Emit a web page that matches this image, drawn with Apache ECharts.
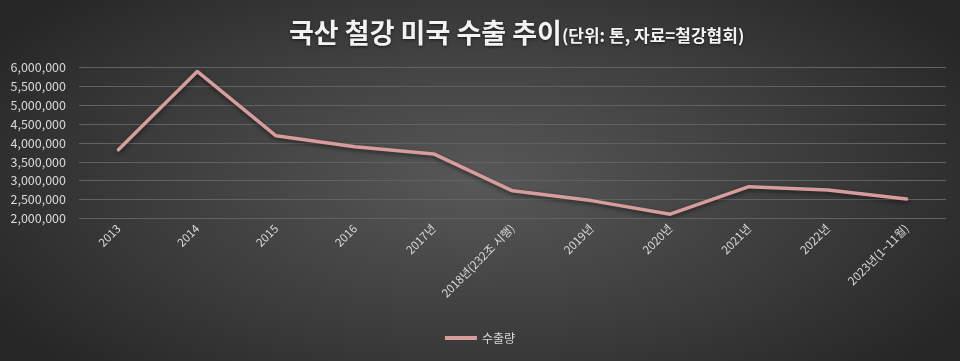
<!DOCTYPE html>
<html><head><meta charset="utf-8">
<script src="https://cdn.jsdelivr.net/npm/echarts@6/dist/echarts.min.js"></script>
<style>
html,body{margin:0;padding:0;}
#c{width:960px;height:361px;background:radial-gradient(ellipse 60% 75% at 50% 50%, #585858 0%, #3b3b3b 60%, #262626 100%);}
</style></head>
<body><div id="c"></div>
<script>
const categories = ['2013','2014','2015','2016','2017년','2018년(232조 시행)','2019년','2020년','2021년','2022년','2023년(1~11월)'];
const exportVolume = [3820000, 5900000, 4190000, 3900000, 3710000, 2730000, 2470000, 2110000, 2840000, 2750000, 2510000];
const seriesName = '수출량';
const titleMain = '국산 철강 미국 수출 추이';
const titleSub = '(단위: 톤, 자료=철강협회)';

const chart = echarts.init(document.getElementById('c'), null, {renderer:'canvas'});
const font = '"Noto Sans CJK KR", "Noto Sans", sans-serif';
chart.setOption({
  backgroundColor: 'transparent',
  textStyle: {fontFamily: font},
  title: {
    text: '{a|' + titleMain + '}{b|' + titleSub + '}',
    left: 284, top: 14,
    textStyle: {
      rich: {
        a: {fontSize: 27, fontWeight: 'bold', color: '#f2f2f2', fontFamily: font, textShadowColor: 'rgba(0,0,0,0.6)', textShadowBlur: 3, textShadowOffsetY: 1},
        b: {fontSize: 17, fontWeight: 'bold', color: '#f2f2f2', fontFamily: font, padding: [6,0,0,0], textShadowColor: 'rgba(0,0,0,0.6)', textShadowBlur: 3, textShadowOffsetY: 1}
      }
    }
  },
  legend: {
    bottom: 12, left: 'center',
    itemWidth: 32, itemHeight: 4,
    icon: 'rect',
    textStyle: {color: '#d9d9d9', fontSize: 12, fontFamily: font},
    data: [seriesName]
  },
  grid: {left: 79, right: 14, top: 67.7, height: 150.6, containLabel: false},
  xAxis: {
    type: 'category', data: categories, boundaryGap: true,
    axisLine: {show: false}, axisTick: {show: false},
    axisLabel: {rotate: 45, color: '#d9d9d9', fontSize: 11.5, margin: 8, interval: 0, fontFamily: font}
  },
  yAxis: {
    type: 'value', min: 2000000, max: 6000000, interval: 500000,
    axisLine: {show: false}, axisTick: {show: false},
    axisLabel: {color: '#d9d9d9', fontSize: 12.5, margin: 13, fontFamily: font,
      formatter: v => v.toLocaleString('en-US')},
    splitLine: {lineStyle: {color: '#626262', width: 1}}
  },
  series: [{
    name: seriesName, type: 'line', data: exportVolume,
    symbol: 'none',
    lineStyle: {color: '#d79d9d', width: 3.5, shadowColor: 'rgba(0,0,0,0.5)', shadowBlur: 4, shadowOffsetY: 2, cap: 'round', join: 'round'},
    itemStyle: {color: '#d79d9d'}
  }]
});
</script></body></html>
